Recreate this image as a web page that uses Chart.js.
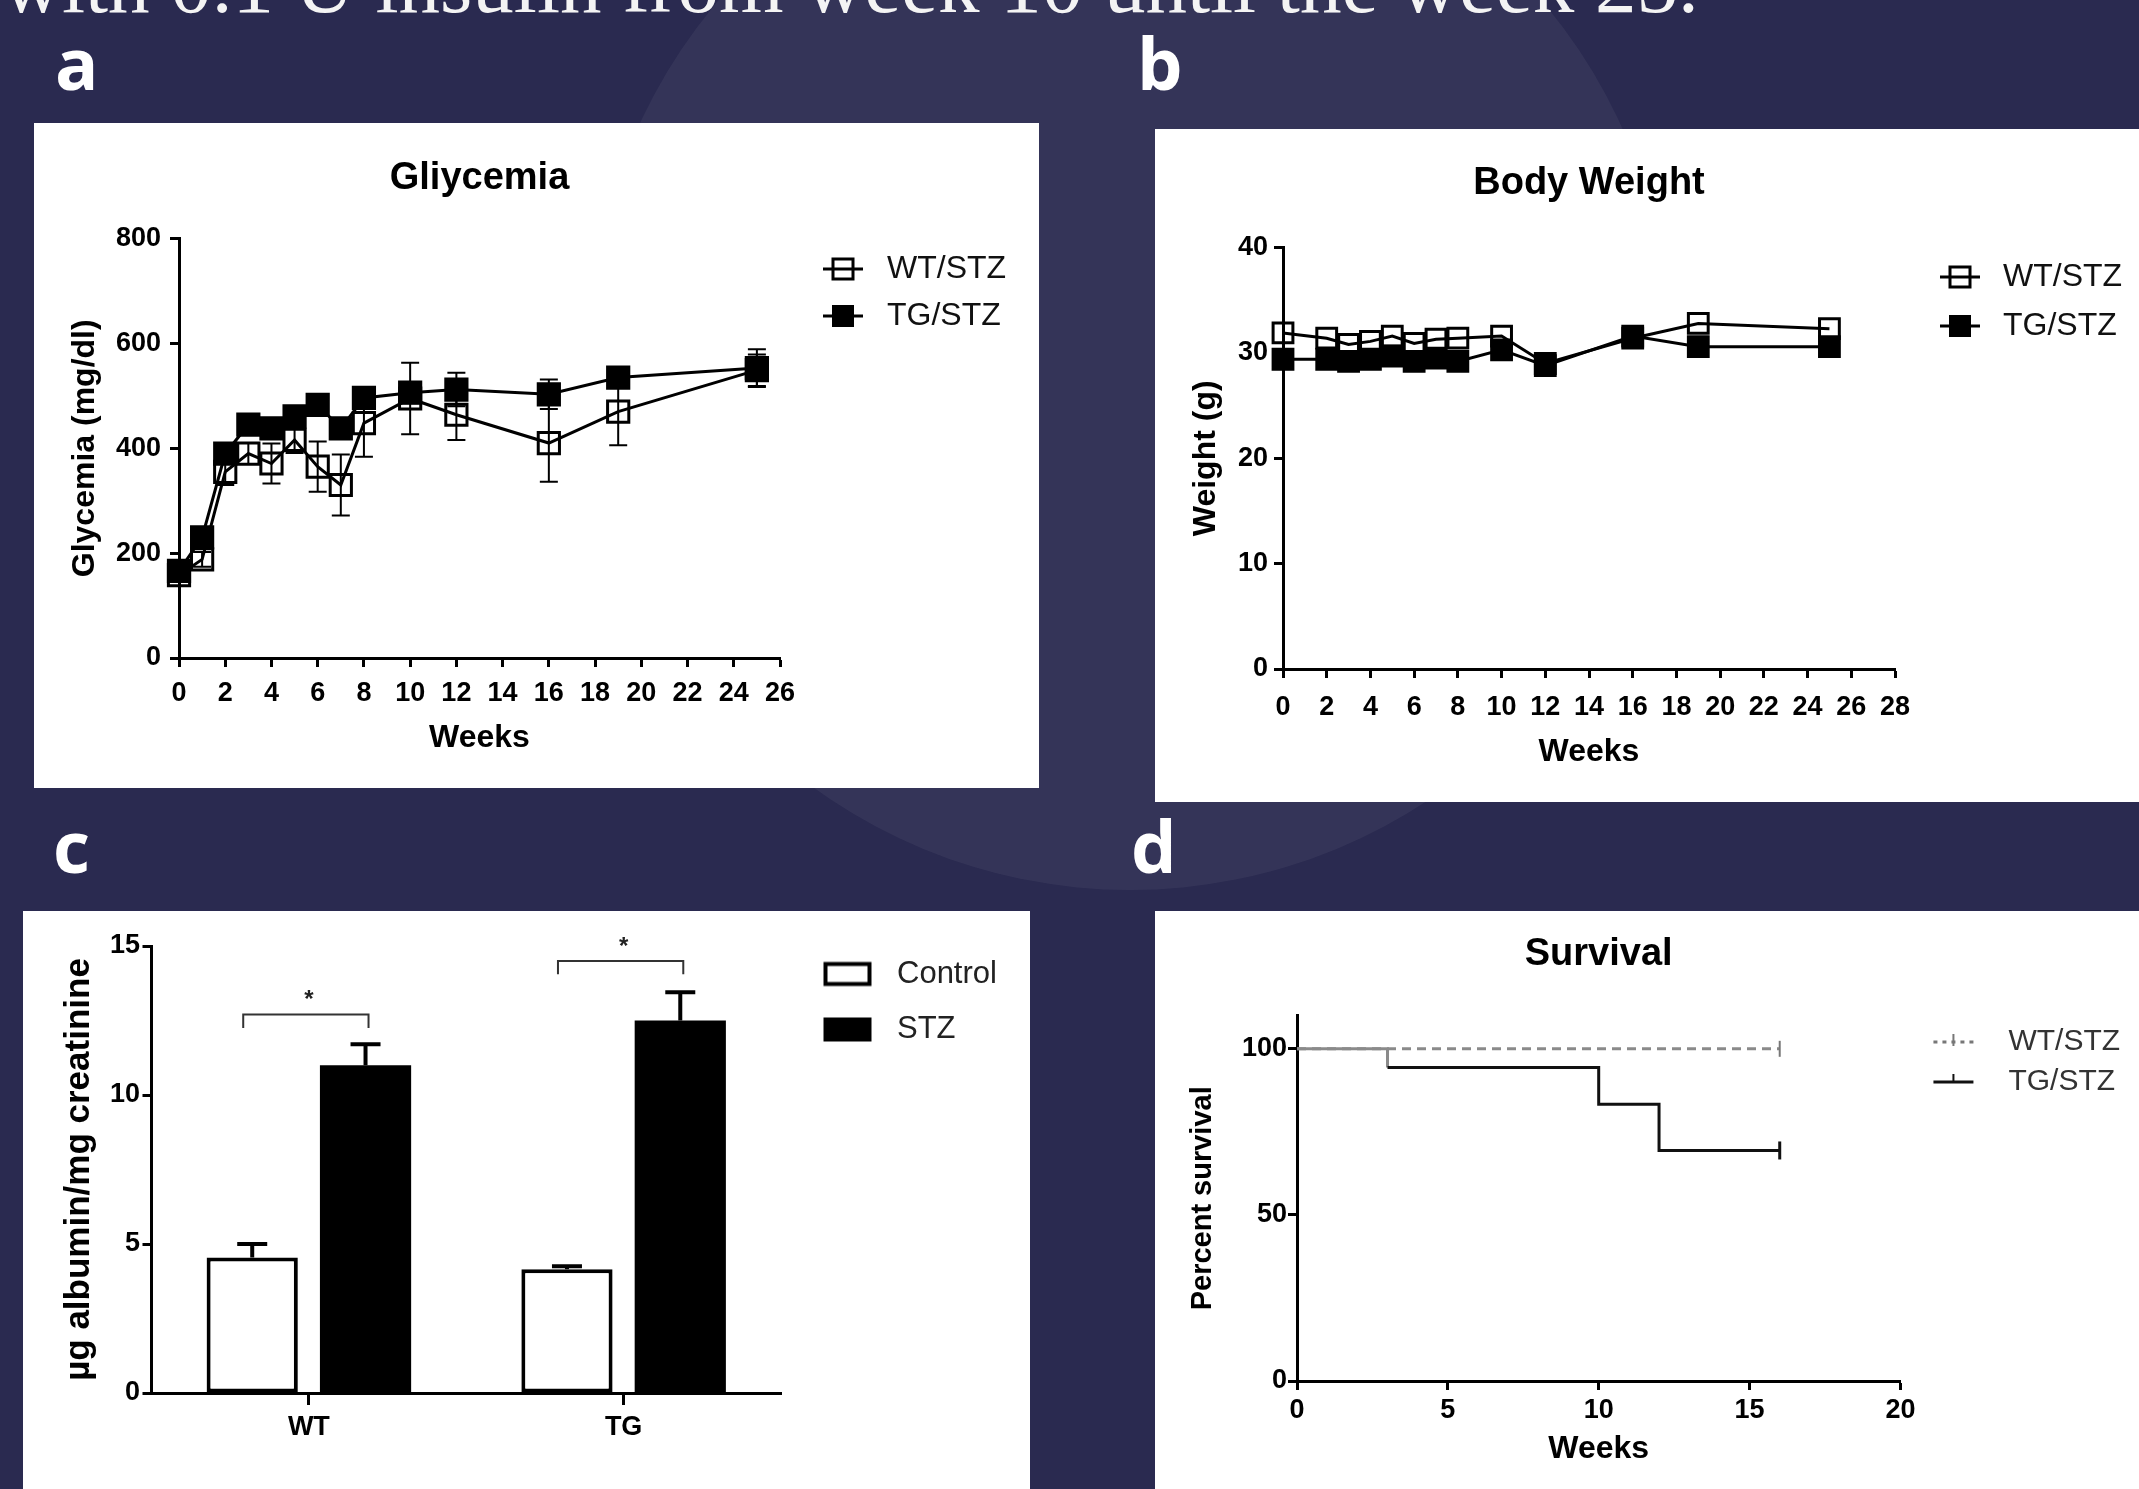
<!DOCTYPE html>
<html>
<head>
<meta charset="utf-8">
<title>Glycemia, body weight, albuminuria and survival</title>
<script src="https://cdn.jsdelivr.net/npm/chart.js@4"></script>
<style>
  html, body { margin: 0; padding: 0; }
  body { width: 2139px; height: 1489px; position: relative; overflow: hidden; background: #2a2a50; }
  #glow { position: absolute; left: 590px; top: -190px; width: 1080px; height: 1080px; border-radius: 50%; background: rgba(255, 255, 255, 0.05); }
  #caption { position: absolute; left: 2px; top: -57px; font: 83px 'Liberation Serif', serif; line-height: 1; color: #f4f4f4; white-space: nowrap; }
  .tag { position: absolute; font: 700 72px 'Open Sans', sans-serif; line-height: 1; color: #fff; }
  .panel { position: absolute; background: #fff; overflow: hidden; }
  .panel canvas { display: block; }
</style>
</head>
<body>
<div id="glow"></div>
<div id="caption">with 0.1 U insulin from week 10 until the week 25.</div>
<div class="tag" style="left:55px;top:26px">a</div>
<div class="tag" style="left:1137px;top:26px">b</div>
<div class="tag" style="left:53px;top:809px">c</div>
<div class="tag" style="left:1131px;top:809px">d</div>

<div class="panel" style="left:34px;top:123px;width:1005px;height:665px"><canvas id="chartA" width="1005" height="665"></canvas></div>
<div class="panel" style="left:1155px;top:129px;width:984px;height:673px"><canvas id="chartB" width="984" height="673"></canvas></div>
<div class="panel" style="left:23px;top:911px;width:1007px;height:578px"><canvas id="chartC" width="1007" height="578"></canvas></div>
<div class="panel" style="left:1155px;top:911px;width:984px;height:578px"><canvas id="chartD" width="984" height="578"></canvas></div>

<script>
const FONT = "'Liberation Sans', Arial, sans-serif";

// a: glycemia (mg/dl), mean and SEM
const glyWeeks = [0, 1, 2, 3, 4, 5, 6, 7, 8, 10, 12, 16, 19, 25];
const glyWT    = [158, 188, 355, 390, 371, 416, 365, 330, 448, 495, 464, 410, 470, 549];
const glyTG    = [166, 230, 390, 445, 438, 461, 483, 438, 496, 506, 512, 503, 535, 553];
const glyWTsem = [12, 14, 25, 20, 38, 25, 48, 58, 64, 68, 48, 74, 64, 30];
const glyTGsem = [10, 18, 15, 15, 15, 15, 15, 15, 15, 20, 32, 28, 20, 36];

// b: body weight (g)
const bwWeeks = [0, 2, 3, 4, 5, 6, 7, 8, 10, 12, 16, 19, 25];
const bwWT    = [31.9, 31.4, 30.8, 31.1, 31.6, 30.9, 31.3, 31.4, 31.6, 29.0, 31.4, 32.8, 32.3];
const bwTG    = [29.4, 29.4, 29.2, 29.4, 29.7, 29.2, 29.5, 29.2, 30.3, 28.8, 31.6, 30.6, 30.6];

// c: µg albumin / mg creatinine
const alGroups     = ['WT', 'TG'];
const alControl    = [4.55, 4.15];
const alSTZ        = [11.0, 12.5];
const alControlSem = [0.45, 0.1];
const alSTZsem     = [0.7, 0.95];
const alBracket    = [12.7, 14.5];

// d: percent survival
const svWTweeks = [0, 16];
const svWT      = [100, 100];
const svTGweeks = [0, 3, 10, 12, 16];
const svTG      = [100, 94.4, 83.3, 69.4, 69.4];

// axis [min, max, step]
const glyX = [0, 26, 2], glyY = [0, 800, 200];
const bwX  = [0, 28, 2], bwY  = [0, 40, 10];
const alY  = [0, 15, 5];
const svX  = [0, 20, 5], svY  = [0, 110, 50];

function pts(xs, ys) { return xs.map((x, i) => ({ x, y: ys[i] })); }

// SEM bars, read from dataset.errors
const errorBars = {
  id: 'errorBars',
  paint(chart, behind) {
    const ctx = chart.ctx, y = chart.scales.y;
    ctx.save();
    ctx.strokeStyle = '#000';
    chart.data.datasets.forEach((ds, k) => {
      if (!ds.errors || !!ds.errorBehind !== behind) return;
      chart.getDatasetMeta(k).data.forEach((el, i) => {
        const raw = ds.data[i];
        const v = typeof raw === 'object' ? raw.y : raw;
        const top = y.getPixelForValue(v + ds.errors[i]);
        const bottom = ds.errorUp ? el.y : y.getPixelForValue(v - ds.errors[i]);
        ctx.lineWidth = ds.errorWidth;
        ctx.beginPath();
        ctx.moveTo(el.x, bottom); ctx.lineTo(el.x, top);
        ctx.moveTo(el.x - ds.errorCap, top); ctx.lineTo(el.x + ds.errorCap, top);
        if (!ds.errorUp) { ctx.moveTo(el.x - ds.errorCap, bottom); ctx.lineTo(el.x + ds.errorCap, bottom); }
        ctx.stroke();
      });
    });
    ctx.restore();
  },
  beforeDatasetsDraw(chart) { this.paint(chart, true); },
  afterDatasetsDraw(chart) { this.paint(chart, false); }
};

// significance brackets over each group in panel c
const brackets = {
  id: 'brackets',
  afterDatasetsDraw(chart) {
    const y = chart.scales.y, ctx = chart.ctx;
    const a = chart.getDatasetMeta(0).data, b = chart.getDatasetMeta(1).data;
    ctx.save();
    ctx.strokeStyle = '#333'; ctx.lineWidth = 2; ctx.fillStyle = '#222';
    ctx.font = 'bold 24px ' + FONT; ctx.textAlign = 'center'; ctx.textBaseline = 'middle';
    alBracket.forEach((v, i) => {
      const top = y.getPixelForValue(v), leg = y.getPixelForValue(v - 0.45);
      ctx.beginPath();
      ctx.moveTo(a[i].x - 9, leg); ctx.lineTo(a[i].x - 9, top);
      ctx.lineTo(b[i].x + 3, top); ctx.lineTo(b[i].x + 3, leg);
      ctx.stroke();
      ctx.fillText('*', (a[i].x + b[i].x) / 2, top - 14);
    });
    ctx.restore();
  }
};

function icon(w, h, paint) {
  const c = document.createElement('canvas');
  c.width = w; c.height = h;
  paint(c.getContext('2d'), h / 2);
  return c;
}
function squareIcon(w, h, cx, filled) {
  return icon(w, h, (g, cy) => {
    g.strokeStyle = '#000'; g.lineWidth = 3;
    g.beginPath(); g.moveTo(cx - 20, cy); g.lineTo(cx + 20, cy); g.stroke();
    if (filled) { g.fillStyle = '#000'; g.fillRect(cx - 11, cy - 11, 22, 22); }
    else g.strokeRect(cx - 10, cy - 10, 20, 20);
  });
}
function boxIcon(w, h, cx, filled) {
  return icon(w, h, (g, cy) => {
    g.fillStyle = '#000';
    g.fillRect(cx - 24, cy - 12, 48, 24);
    if (!filled) { g.fillStyle = '#fff'; g.fillRect(cx - 20, cy - 8, 40, 16); }
  });
}
function survIcon(w, h, cx, dashed) {
  return icon(w, h, (g, cy) => {
    g.strokeStyle = dashed ? '#777' : '#111'; g.lineWidth = 3;
    if (dashed) g.setLineDash([4, 5]);
    g.beginPath(); g.moveTo(cx - 20, cy); g.lineTo(cx + 20, cy); g.stroke();
    g.setLineDash([]); g.lineWidth = 2;
    g.beginPath(); g.moveTo(cx, cy - 8); g.lineTo(cx, cy + (dashed ? 4 : 1)); g.stroke();
  });
}

const scratch = document.createElement('canvas').getContext('2d');
function textWidth(labels, fs) {
  scratch.font = fs + 'px ' + FONT;
  return Math.max(...labels.map(t => scratch.measureText(t).width));
}

function axis(o) {
  return {
    type: o.type || 'linear',
    min: o.range ? o.range[0] : undefined,
    max: o.range ? o.range[1] : undefined,
    afterFit: s => { if (s.isHorizontal()) s.height = o.size; else s.width = o.size; },
    border: { display: true, color: '#000', width: 3 },
    grid: { display: true, drawOnChartArea: false, drawTicks: true, offset: false,
            tickLength: o.tick || 9, tickWidth: 3, tickColor: '#000' },
    ticks: { stepSize: o.range ? o.range[2] : undefined, includeBounds: false, autoSkip: false,
             maxRotation: 0, color: '#000', padding: o.pad,
             font: { family: FONT, size: 27, weight: 'bold' } },
    title: o.title
      ? { display: true, text: o.title, color: '#000', font: { family: FONT, size: o.tfs, weight: 'bold' }, padding: o.tpad }
      : { display: false }
  };
}

// legend on the right; its width is worked out so the plot keeps its right edge
function legend(o) {
  const width = o.gap + o.slot + o.fs / 2 + textWidth(o.labels, o.fs) + 10;
  o.padRight = Math.max(0, o.area - width);
  return {
    display: true, position: 'right', align: 'start', fullSize: true,
    title: { display: true, text: ' ', font: { size: 10 }, padding: { top: o.offset - 12, bottom: 0 } },
    labels: {
      usePointStyle: true, pointStyleWidth: o.slot, padding: o.gap, color: o.color,
      font: { family: FONT, size: o.fs },
      generateLabels: chart => Chart.defaults.plugins.legend.labels.generateLabels(chart)
        .sort((p, q) => p.datasetIndex - q.datasetIndex)
        .map(item => Object.assign(item, { pointStyle: o.icons[item.datasetIndex], rotation: 0 }))
    }
  };
}

function base(o) {
  return {
    responsive: false, animation: false, devicePixelRatio: 1, events: [],
    layout: { padding: { left: 0, top: 0, bottom: 0, right: o.right } },
    plugins: {
      title: { display: true, text: o.title, fullSize: false, color: '#000',
               font: { family: FONT, size: o.titleSize || 38, weight: 'bold' },
               padding: { top: o.titleTop, bottom: o.titleBottom } },
      legend: o.legend,
      tooltip: { enabled: false }
    },
    scales: { x: o.x, y: o.y }
  };
}

function lineSet(label, data, filled, r, order, errors) {
  return {
    label, data, order, errors, errorWidth: 2, errorCap: 9, errorBehind: true,
    borderColor: '#000', borderWidth: 3, tension: 0, clip: false,
    pointStyle: 'rect', pointRadius: r, pointBorderWidth: 3, pointBorderColor: '#000',
    pointBackgroundColor: filled ? '#000' : 'rgba(0,0,0,0)'
  };
}

// a
const legA = { area: 1005 - 746, offset: 115, gap: 15, slot: 76, fs: 32, color: '#111',
               labels: ['WT/STZ', 'TG/STZ'], icons: [squareIcon(76, 32, 48, false), squareIcon(76, 32, 48, true)] };
const legAopts = legend(legA);
new Chart(document.getElementById('chartA'), {
  type: 'line',
  data: { datasets: [
    lineSet('WT/STZ', pts(glyWeeks, glyWT), false, 15, 1, glyWTsem),
    lineSet('TG/STZ', pts(glyWeeks, glyTG), true, 15, 0, glyTGsem)
  ] },
  options: base({
    right: legA.padRight, title: 'Gliycemia', titleTop: 33, titleBottom: 37, legend: legAopts,
    x: axis({ range: glyX, size: 130, pad: 10, title: 'Weeks', tfs: 32, tpad: { top: 0, bottom: 31 } }),
    y: axis({ range: glyY, size: 145, pad: 9, title: 'Glycemia (mg/dl)', tfs: 32, tpad: { top: 32, bottom: 0 } })
  }),
  plugins: [errorBars]
});

// b
const legB = { area: 984 - 740, offset: 115, gap: 17, slot: 75, fs: 32, color: '#111',
               labels: ['WT/STZ', 'TG/STZ'], icons: [squareIcon(75, 32, 48, false), squareIcon(75, 32, 48, true)] };
const legBopts = legend(legB);
new Chart(document.getElementById('chartB'), {
  type: 'line',
  data: { datasets: [
    lineSet('WT/STZ', pts(bwWeeks, bwWT), false, 14, 1, null),
    lineSet('TG/STZ', pts(bwWeeks, bwTG), true, 14, 0, null)
  ] },
  options: base({
    right: legB.padRight, title: 'Body Weight', titleTop: 32, titleBottom: 41, legend: legBopts,
    x: axis({ range: bwX, size: 133, pad: 13, title: 'Weeks', tfs: 32, tpad: { top: 0, bottom: 31 } }),
    y: axis({ range: bwY, size: 128, pad: 6, title: 'Weight (g)', tfs: 32, tpad: { top: 32, bottom: 0 } })
  })
});

// c
const legC = { area: 1007 - 758, offset: 23, gap: 24.5, slot: 76, fs: 31, color: '#222',
               labels: ['Control', 'STZ'], icons: [boxIcon(76, 31, 42, false), boxIcon(76, 31, 42, true)] };
const legCopts = legend(legC);
new Chart(document.getElementById('chartC'), {
  type: 'bar',
  data: {
    labels: alGroups,
    datasets: [
      { label: 'Control', data: alControl, errors: alControlSem, errorUp: true, errorWidth: 4, errorCap: 15,
        backgroundColor: '#fff', borderColor: '#000', borderWidth: 4, borderSkipped: false,
        categoryPercentage: 0.72, barPercentage: 0.805 },
      { label: 'STZ', data: alSTZ, errors: alSTZsem, errorUp: true, errorWidth: 4, errorCap: 15,
        backgroundColor: '#000', borderColor: '#000', borderWidth: 0,
        categoryPercentage: 0.72, barPercentage: 0.805 }
    ]
  },
  options: base({
    right: legC.padRight, title: '', titleSize: 10, titleTop: 23, titleBottom: 0, legend: legCopts,
    x: axis({ type: 'category', size: 96, tick: 12, pad: 6 }),
    y: axis({ range: alY, size: 128.5, pad: 2.5, title: 'µg albumin/mg creatinine', tfs: 35, tpad: { top: 35, bottom: 0 } })
  }),
  plugins: [errorBars, brackets]
});

// d
const legD = { area: 984 - 745.4, offset: 106, gap: 10, slot: 83, fs: 30, color: '#333',
               labels: ['WT/STZ', 'TG/STZ'], icons: [survIcon(83, 30, 43, true), survIcon(83, 30, 43, false)] };
const legDopts = legend(legD);
new Chart(document.getElementById('chartD'), {
  type: 'line',
  data: { datasets: [
    { label: 'WT/STZ', data: pts(svWTweeks, svWT), stepped: 'before', borderColor: '#8a8a8a', borderWidth: 3,
      borderDash: [9, 6], clip: false, pointStyle: 'line', pointRotation: 90, pointRadius: [0, 8],
      pointBorderColor: '#777', pointBorderWidth: 2 },
    { label: 'TG/STZ', data: pts(svTGweeks, svTG), stepped: 'before', borderColor: '#111', borderWidth: 3,
      segment: { borderColor: c => c.p0DataIndex === 0 ? '#8a8a8a' : undefined },
      clip: false, pointStyle: 'line', pointRotation: 90, pointRadius: [0, 0, 0, 0, 9],
      pointBorderColor: '#111', pointBorderWidth: 3 }
  ] },
  options: base({
    right: legD.padRight, title: 'Survival', titleTop: 21, titleBottom: 38, legend: legDopts,
    x: axis({ range: svX, size: 108, pad: 4, title: 'Weeks', tfs: 32, tpad: { top: 0, bottom: 21 } }),
    y: axis({ range: svY, size: 142, pad: 1, title: 'Percent survival', tfs: 29, tpad: { top: 31, bottom: 0 } })
  })
});
</script>
</body>
</html>
